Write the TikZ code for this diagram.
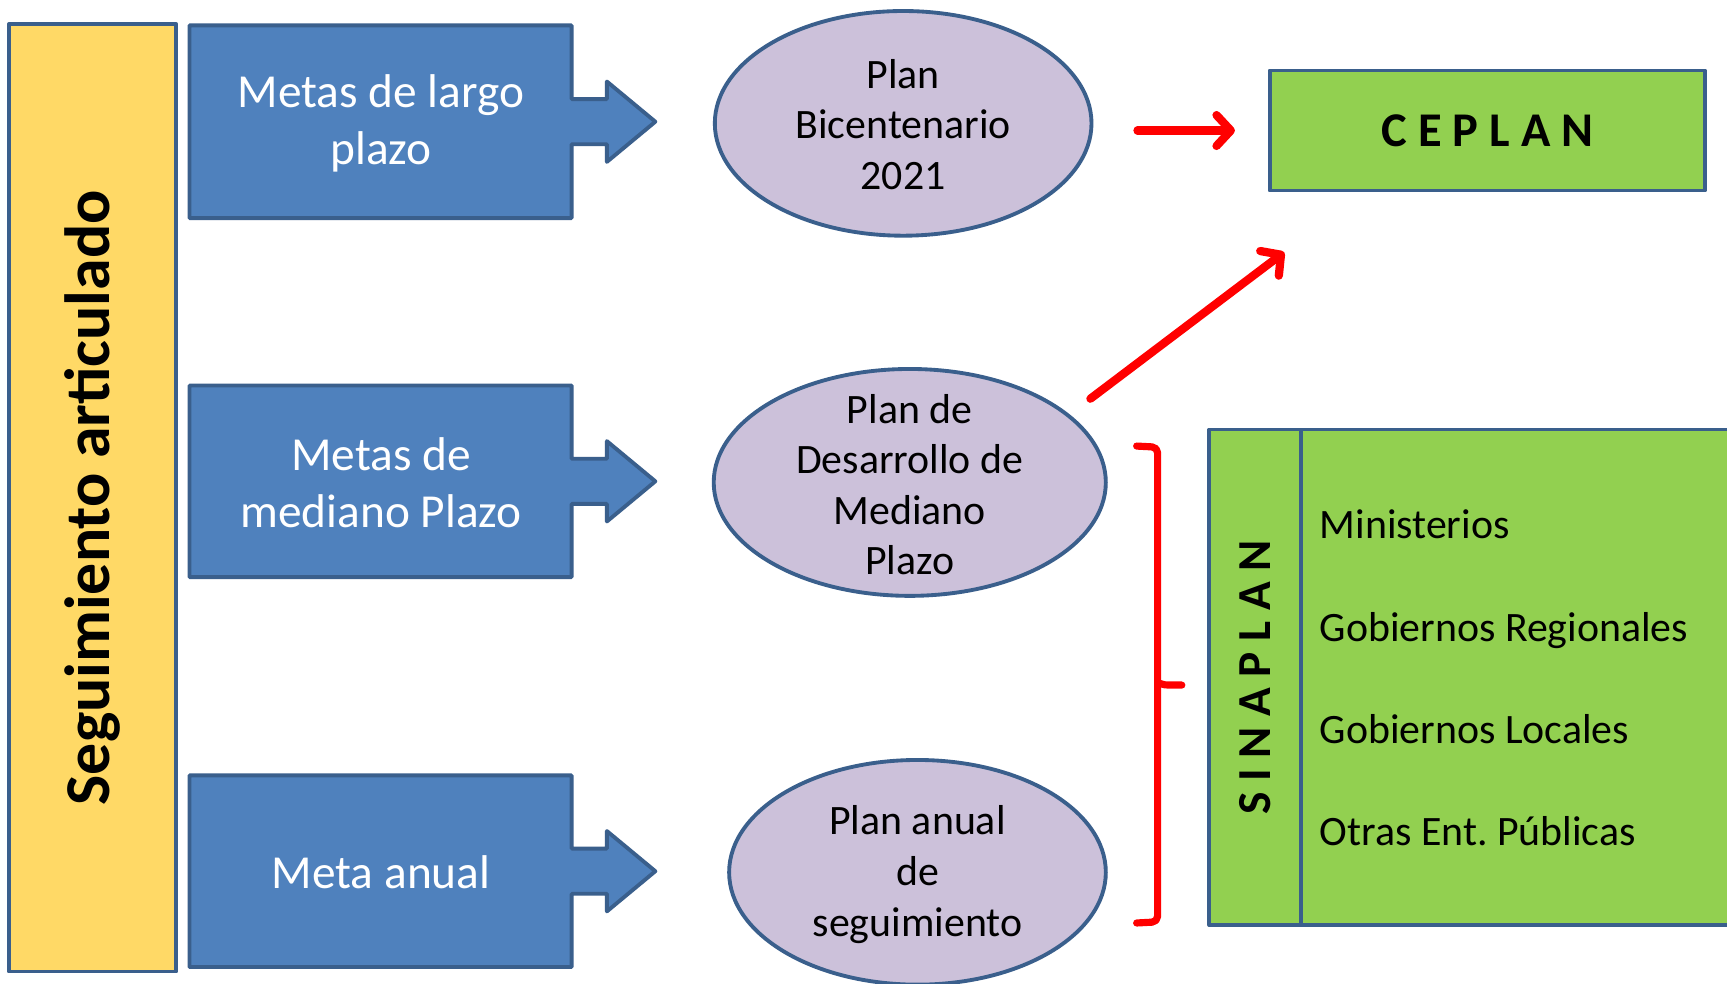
\documentclass[tikz,border=0pt]{standalone}
\usepackage{fontspec}
\setmainfont{Carlito}
\usetikzlibrary{shapes.geometric,arrows.meta}
\definecolor{bfill}{HTML}{4F81BD}
\definecolor{bline}{HTML}{3A5F8C}
\definecolor{efill}{HTML}{CCC1DA}
\definecolor{yfill}{HTML}{FFD966}
\definecolor{gfill}{HTML}{92D050}
\frenchspacing
\begin{document}
\begin{tikzpicture}[x=1pt,y=-1pt,
  frame/.style={draw=bline, line width=3.5pt, line join=round},
  bluearrow/.style={frame, fill=bfill},
  bluetext/.style={text=white, font=\fontsize{43}{52}\selectfont, align=center, inner sep=0},
  plan/.style={ellipse, draw=bline, line width=3.5pt, fill=efill, inner sep=0},
  plantext/.style={font=\fontsize{38}{46}\selectfont, align=center, inner sep=0},
  itemtext/.style={font=\fontsize{38}{46}\selectfont, anchor=base west, inner sep=0},
  redarrow/.style={draw=red, line width=7.5pt, line cap=round, -{Straight Barb[length=13pt,width=28pt,round]}},
  bracestyle/.style={draw=red, line width=6.5pt, line cap=round, line join=round}
]
\clip (0,0) rectangle (1568,893);
\fill[white] (0,0) rectangle (1568,893);

% yellow bar
\node[frame, fill=yfill, minimum width=152, minimum height=860, inner sep=0] (bar) at (84,452) {};
\node[rotate=90, font=\fontsize{58}{60}\selectfont\bfseries, inner sep=0] (bartext) at (84,452) {Seguimiento articulado};

% blue arrow boxes
\draw[bluearrow] (172,23) -- (519,23) -- (519,90) -- (551,90) -- (551,74) -- (595,110.5) -- (551,147) -- (551,131) -- (519,131) -- (519,198) -- (172,198) -- cycle;
\node[bluetext] (b1) at (346,112) {Metas de largo\\plazo};

\draw[bluearrow] (172,350) -- (519,350) -- (519,416.5) -- (551,416.5) -- (551,400.5) -- (595,437) -- (551,473.5) -- (551,457.5) -- (519,457.5) -- (519,524) -- (172,524) -- cycle;
\node[bluetext] (b2) at (346,438) {Metas de\\mediano Plazo};

\draw[bluearrow] (172,704) -- (519,704) -- (519,770.5) -- (551,770.5) -- (551,754.5) -- (595,791) -- (551,827.5) -- (551,811.5) -- (519,811.5) -- (519,878) -- (172,878) -- cycle;
\node[bluetext] (b3) at (346,792) {Meta anual};

% ellipses
\node[plan, minimum width=342, minimum height=204] (e1) at (820,112) {};
\node[plantext] (t1) at (820,113) {Plan\\Bicentenario\\2021};
\node[plan, minimum width=356, minimum height=206] (e2) at (826,438) {};
\node[plantext] (t2) at (826,440) {Plan de\\Desarrollo de\\Mediano\\Plazo};
\node[plan, minimum width=342, minimum height=204] (e3) at (833,792) {};
\node[plantext] (t3) at (833,794) {Plan anual\\de\\seguimiento};

% CEPLAN
\node[frame, fill=gfill, minimum width=395, minimum height=109, inner sep=0, font=\fontsize{44}{50}\selectfont\bfseries] (ceplan) at (1350.5,118.5) {C E P L A N};

% SINAPLAN
\node[frame, fill=gfill, minimum width=490, minimum height=450, inner sep=0] (sina) at (1343,615) {};
\coordinate (divtop) at (1181,390);
\coordinate (divbot) at (1181,840);
\draw[frame] (divtop) -- (divbot);
\node[rotate=90, font=\fontsize{43}{50}\selectfont\bfseries, inner sep=0] (sinatext) at (1140,615) {S I N A P L A N};
\node[itemtext] (m1) at (1198,489) {Ministerios};
\node[itemtext] (m2) at (1198,582) {Gobiernos Regionales};
\node[itemtext] (m3) at (1198,675) {Gobiernos Locales};
\node[itemtext] (m4) at (1198,768) {Otras Ent. Públicas};

% red arrows
\draw[redarrow, shorten <=40pt, shorten >=30pt] (e1.east |- ceplan.west) -- (ceplan.west);
\coordinate (a2s) at (990,362);
\coordinate (a2e) at (1166,229);
\draw[redarrow] (a2s) -- (a2e);

% brace
\coordinate (brtop) at (1032,405);
\coordinate (brtip) at (1073,622);
\coordinate (brbot) at (1032,838);
\draw[bracestyle, rounded corners=5pt] (brtop) -- (1051,406) -- (1051,622) -- (1051,837) -- (brbot);
\draw[bracestyle] (1051,620) .. controls (1056,622) .. (brtip);
\end{tikzpicture}
\end{document}
